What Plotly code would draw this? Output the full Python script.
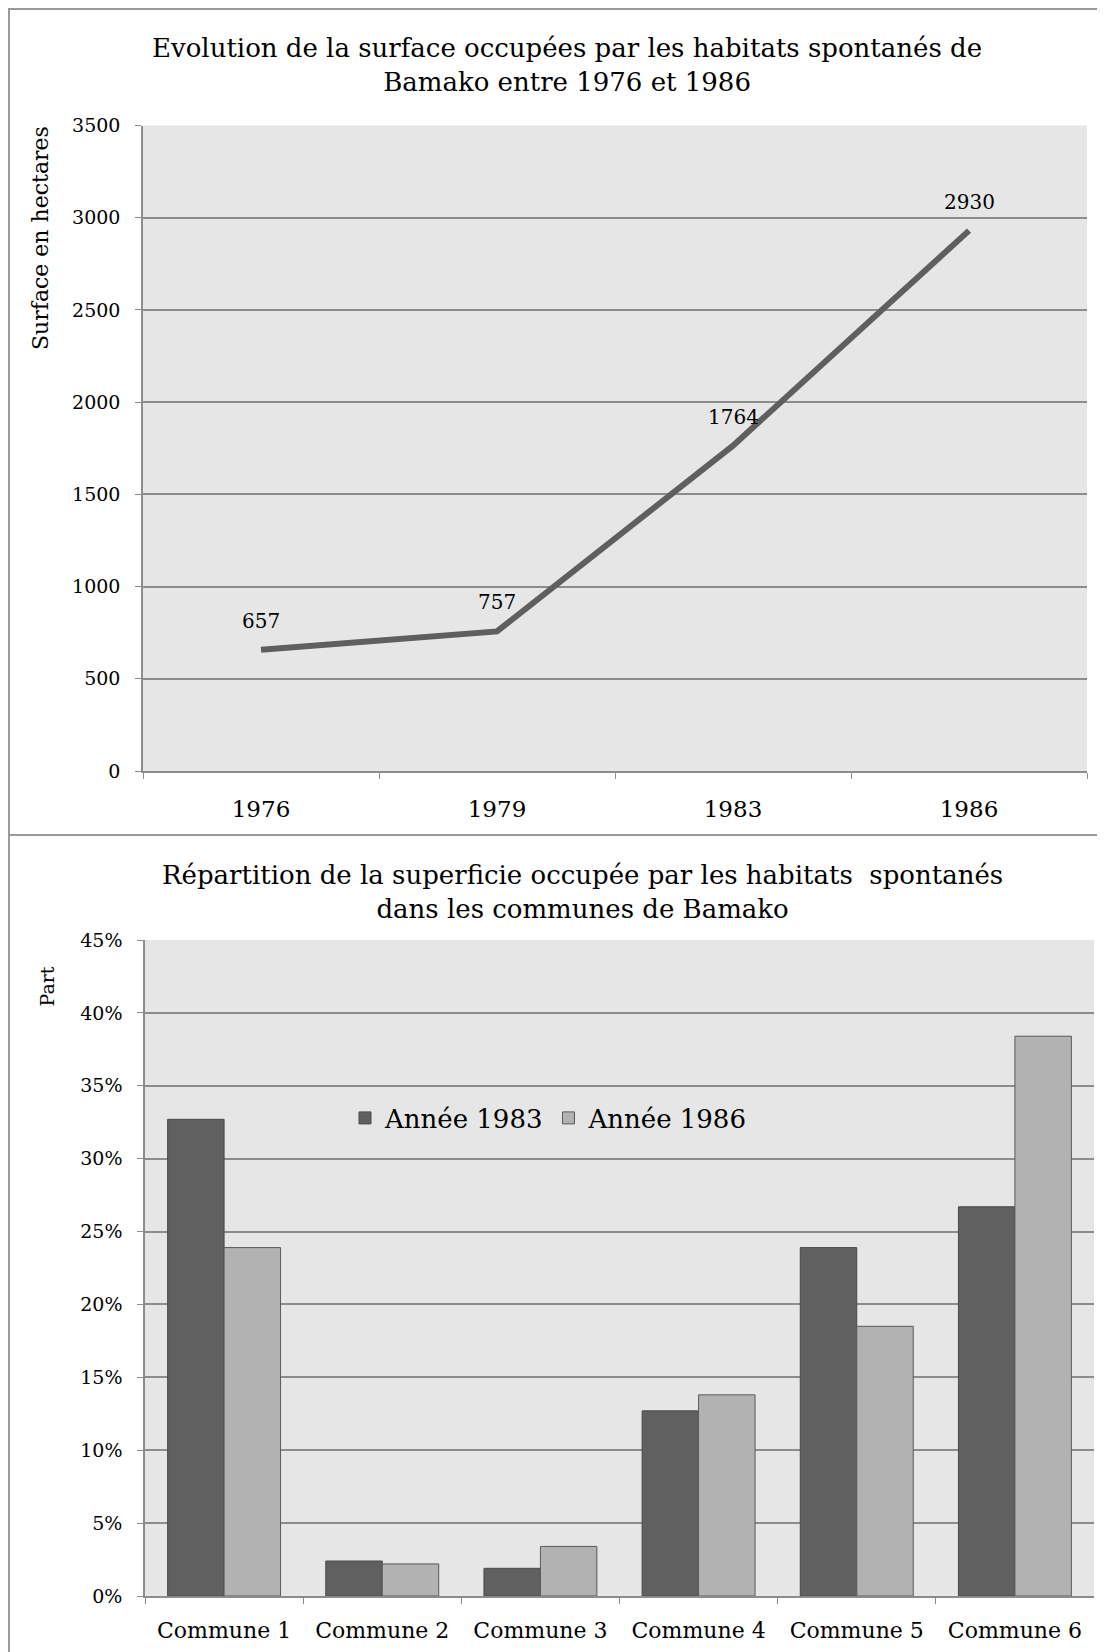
import plotly.graph_objects as go

# surface des habitats spontanés (ha)
years = ["1976", "1979", "1983", "1986"]
surface = [657, 757, 1764, 2930]

# part par commune (%)
communes = ["Commune 1", "Commune 2", "Commune 3", "Commune 4", "Commune 5", "Commune 6"]
part_1983 = [32.7, 2.4, 1.9, 12.7, 23.9, 26.7]
part_1986 = [23.9, 2.2, 3.4, 13.8, 18.5, 38.4]

W, H = 1105, 1652
OFF = 8  # marge du <body> de la page html
FONT = "DejaVu Serif"
GRID = "#8c8c8c"
BORDER = "#9a9a9a"


def px(x):
    return (x - OFF) / W


def py(y):
    return 1 - (y - OFF) / H


fig = go.Figure()

fig.add_trace(go.Scatter(
    x=years, y=surface,
    mode="lines",
    line=dict(color="#5f5f5f", width=6),
    showlegend=False,
    xaxis="x", yaxis="y",
))

fig.add_trace(go.Bar(
    x=communes, y=part_1983, name="Année 1983",
    marker=dict(color="#606060", line=dict(color="#4a4a4a", width=1)),
    xaxis="x2", yaxis="y2",
))
fig.add_trace(go.Bar(
    x=communes, y=part_1986, name="Année 1986",
    marker=dict(color="#b2b2b2", line=dict(color="#5a5a5a", width=1)),
    xaxis="x2", yaxis="y2",
))

annotations = []
# étiquettes de valeur: x = index de catégorie sur l'axe
for i, val in enumerate(surface):
    annotations.append(dict(
        x=i, y=val, xref="x", yref="y", text=str(val),
        showarrow=False, yshift=29,
        font=dict(family=FONT, size=20, color="#000000"),
    ))

annotations += [
    dict(x=px(567), y=py(64.5), xref="paper", yref="paper",
         text="Evolution de la surface occupées par les habitats spontanés de<br>Bamako entre 1976 et 1986",
         showarrow=False, xanchor="center", yanchor="middle",
         font=dict(family=FONT, size=26, color="#000000")),
    dict(x=px(582), y=py(892), xref="paper", yref="paper",
         text="Répartition de la superficie occupée par les habitats  spontanés<br>dans les communes de Bamako",
         showarrow=False, xanchor="center", yanchor="middle",
         font=dict(family=FONT, size=26, color="#000000")),
    dict(x=px(40.5), y=py(238.5), xref="paper", yref="paper",
         text="Surface en hectares", textangle=-90,
         showarrow=False, xanchor="center", yanchor="middle",
         font=dict(family=FONT, size=22, color="#000000")),
    dict(x=px(46.5), y=py(987), xref="paper", yref="paper",
         text="Part", textangle=-90,
         showarrow=False, xanchor="center", yanchor="middle",
         font=dict(family=FONT, size=19, color="#000000")),
]

shapes = [
    dict(type="rect", xref="paper", yref="paper",
         x0=px(9), x1=px(1125), y0=py(835), y1=py(9),
         line=dict(color=BORDER, width=2)),
    dict(type="rect", xref="paper", yref="paper",
         x0=px(9), x1=px(1125), y0=py(1680), y1=py(835),
         line=dict(color=BORDER, width=2)),
]

axis_common = dict(
    showline=True, linecolor=GRID, linewidth=1.5,
    ticks="outside", ticklen=6, tickcolor=GRID,
    tickfont=dict(family=FONT, size=19, color="#000000"),
    automargin=False, fixedrange=True,
)

fig.update_layout(
    width=W, height=H,
    margin=dict(l=0, r=0, t=0, b=0),
    paper_bgcolor="white",
    plot_bgcolor="#e6e6e6",
    bargap=0.286, bargroupgap=0,
    xaxis=dict(
        domain=[px(143), px(1087)], anchor="y",
        type="category", tickson="boundaries",
        range=[-0.5, 3.5],
        showgrid=False, ticklabelstandoff=17,
        **{**axis_common, "tickfont": dict(family=FONT, size=23, color="#000000")},
    ),
    yaxis=dict(
        domain=[py(771), py(125.5)], anchor="x",
        range=[0, 3500], dtick=500,
        showgrid=True, gridcolor=GRID, gridwidth=1.5,
        zeroline=False, ticklabelstandoff=11,
        **axis_common,
    ),
    xaxis2=dict(
        domain=[px(145), px(1094)], anchor="y2",
        type="category", tickson="boundaries",
        showgrid=False, ticklabelstandoff=14,
        **{**axis_common, "tickfont": dict(family=FONT, size=22, color="#000000")},
    ),
    yaxis2=dict(
        domain=[py(1596), py(940)], anchor="x2",
        range=[0, 45], dtick=5, ticksuffix="%",
        showgrid=True, gridcolor=GRID, gridwidth=1.5,
        zeroline=False, ticklabelstandoff=11,
        **axis_common,
    ),
    legend=dict(
        orientation="h",
        x=px(345), y=py(1118), xanchor="left", yanchor="middle",
        bgcolor="rgba(0,0,0,0)",
        font=dict(family=FONT, size=26, color="#000000"),
        itemwidth=30,
    ),
    annotations=annotations,
    shapes=shapes,
)

fig.write_html("out.html")
